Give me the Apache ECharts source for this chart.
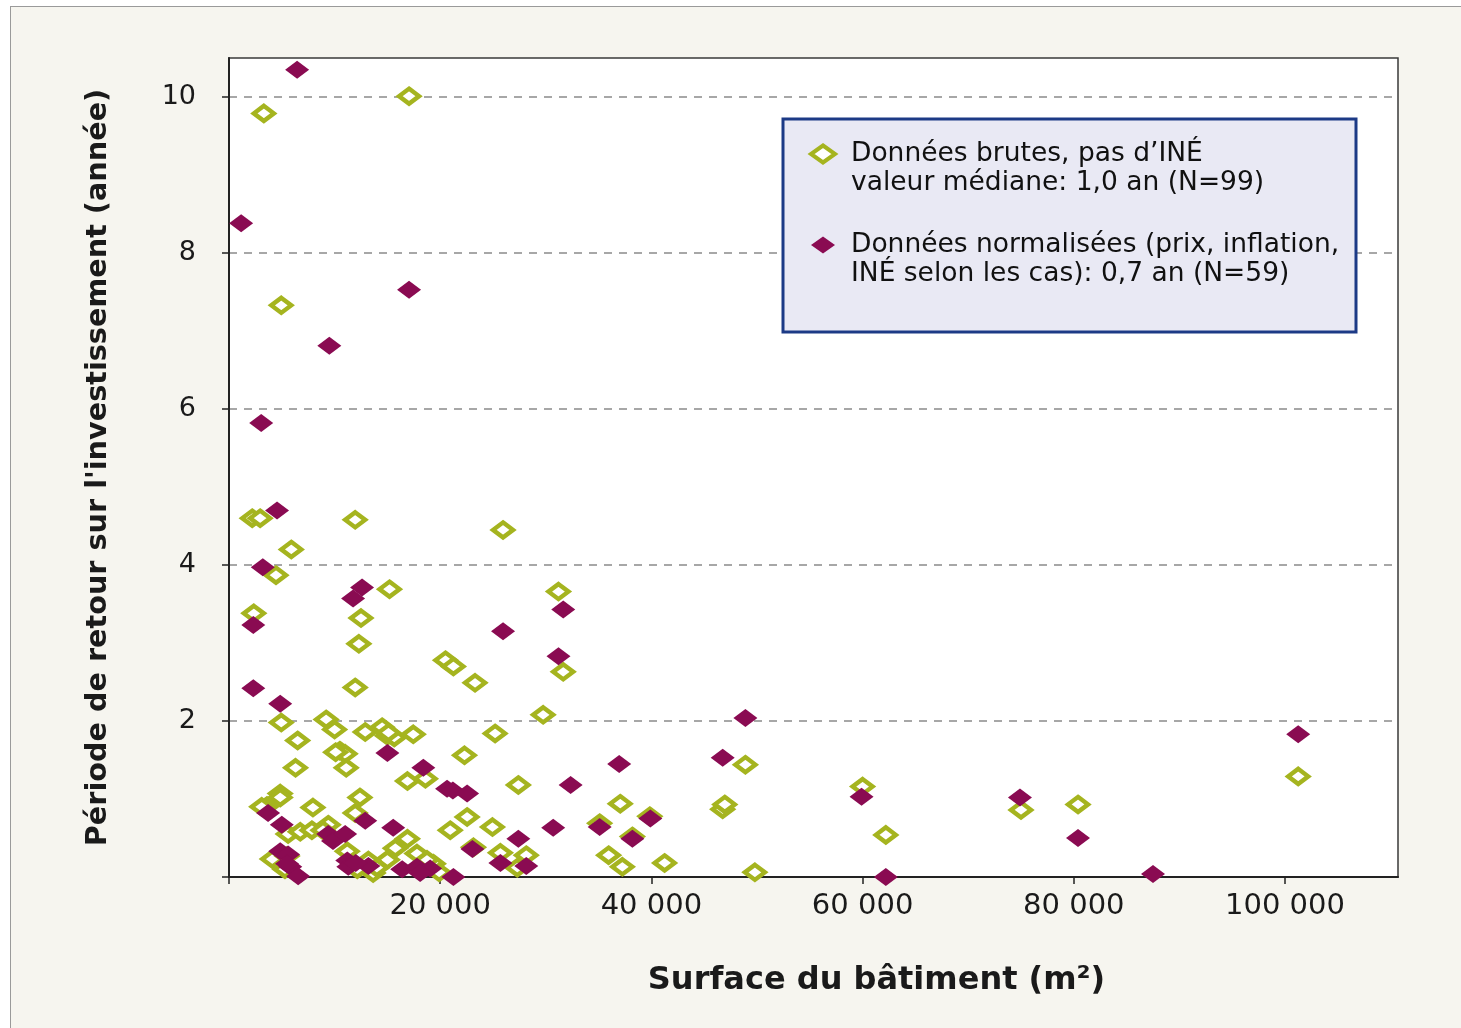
<!DOCTYPE html>
<html>
<head>
<meta charset="utf-8">
<script src="https://cdn.jsdelivr.net/npm/echarts@6/dist/echarts.min.js"></script>
<style>
html,body{margin:0;padding:0;background:#ffffff;}
#frame{position:absolute;left:10px;top:6px;width:1470px;height:1040px;background:#f6f5ef;border:1px solid #9a9a9a;box-sizing:border-box;}
#chart{position:absolute;left:0;top:0;width:1461px;height:1028px;}
</style>
</head>
<body>
<div id="frame"></div>
<div id="chart"></div>
<script>
// Raw data, no NPV (x = building surface m², y = payback years)
const rawX = [3300,17050,4950,2200,2950,5900,4450,2350,11950,25950,15200,12500,12300,11950,31200,31650,20500,21250,23300,29750,25200,22300,9200,4950,6500,10000,10500,11000,6300,11100,12900,14500,15000,15650,17450,16900,18600,4850,4850,3600,7950,12400,11950,22550,20950,5600,6750,7850,9400,16900,15750,17800,15000,4100,5300,11200,13200,13650,19350,18750,12150,23150,27400,37050,48900,46750,46950,24950,35100,25700,28150,27300,35950,37250,41250,49800,39850,38200,60000,62200,75000,80400,101250,15100,10100,3100,14000,5500,8900,19900];
const rawY = [9.79,10.01,7.33,4.60,4.60,4.20,3.87,3.38,4.58,4.45,3.69,3.32,2.99,2.43,3.66,2.63,2.78,2.70,2.49,2.08,1.84,1.56,2.02,1.98,1.75,1.89,1.62,1.58,1.40,1.40,1.86,1.92,1.81,1.79,1.83,1.23,1.26,1.07,1.02,0.91,0.89,1.02,0.82,0.77,0.60,0.55,0.58,0.60,0.67,0.49,0.37,0.30,0.22,0.23,0.10,0.33,0.21,0.05,0.17,0.22,0.10,0.38,1.18,0.94,1.44,0.87,0.93,0.64,0.69,0.31,0.28,0.12,0.28,0.13,0.18,0.06,0.78,0.52,1.16,0.54,0.86,0.93,1.29,1.85,1.60,0.90,0.12,0.27,0.60,0.06];
// Normalised data (price, inflation, NPV where applicable)
const normX = [6450,1150,17050,9500,3050,4550,3200,12600,11750,2300,2300,4850,15000,18400,20650,21200,22550,3700,5000,12900,15550,23050,9400,9850,11000,4850,5600,5800,6550,11200,11300,13200,16400,17800,19050,21250,18100,31650,25950,31200,48900,46750,36950,32350,30700,35100,39900,38200,27400,25700,28150,59900,62200,74900,80400,87500,101250,5500,12000];
const normY = [10.35,8.38,7.53,6.81,5.82,4.70,3.97,3.71,3.57,3.23,2.42,2.22,1.59,1.40,1.13,1.11,1.07,0.82,0.67,0.72,0.63,0.36,0.55,0.46,0.55,0.33,0.29,0.13,0.01,0.21,0.13,0.14,0.10,0.13,0.11,0.00,0.05,3.43,3.15,2.83,2.04,1.53,1.45,1.18,0.63,0.64,0.75,0.49,0.49,0.18,0.14,1.03,0.00,1.02,0.50,0.04,1.83,0.17,0.18];

const xTicks = [20000,40000,60000,80000,100000];
const yTicks = [2,4,6,8,10];
const seriesNames = [
  "Données brutes, pas d\u2019INÉ\nvaleur médiane: 1,0 an (N=99)",
  "Données normalisées (prix, inflation,\nINÉ selon les cas): 0,7 an (N=59)"
];
const xTitle = "Surface du bâtiment (m²)";
const yTitle = "Période de retour sur l'investissement (année)";

const GREEN = '#a5b41f';
const PURPLE = '#8a0b52';
const FONT = 'DejaVu Sans, sans-serif';

const zip = (xs, ys) => xs.map((x, i) => [x, ys[i]]);
const fmtThousands = v => String(v).replace(/\B(?=(\d{3})+(?!\d))/g, ' ');

const chart = echarts.init(document.getElementById('chart'), null, {renderer: 'canvas'});
chart.setOption({
  backgroundColor: 'transparent',
  animation: false,
  grid: {
    left: 229, top: 58, right: 63, bottom: 151,
    show: true, backgroundColor: '#ffffff', borderColor: '#3a3a3a', borderWidth: 1.5
  },
  graphic: [{
    type: 'rect', z: 3,
    shape: {x: 783, y: 119, width: 573, height: 213},
    style: {fill: '#e9e9f4', stroke: '#1c3a86', lineWidth: 3}
  }],
  legend: {
    left: 804, top: 105,
    orient: 'vertical',
    itemWidth: 24, itemHeight: 17,
    itemGap: 3,
    z: 5,
    formatter: name => '\n' + name.split('\n').map(l => '{t|' + l + '}').join('\n'),
    textStyle: {
      fontFamily: FONT, fontSize: 26, color: '#111', lineHeight: 29,
      rich: {t: {fontFamily: FONT, fontSize: 26.5, color: '#111', lineHeight: 29.5, padding: [0, 0, 0, 11]}}
    },
    data: [
      {name: seriesNames[0], itemStyle: {color: '#ffffff', borderColor: GREEN, borderWidth: 4}},
      {name: seriesNames[1], itemStyle: {color: PURPLE, borderWidth: 0}}
    ]
  },
  xAxis: {
    type: 'value', min: 0, max: 110700, interval: 20000,
    name: xTitle, nameLocation: 'middle', nameGap: 88,
    nameTextStyle: {fontFamily: FONT, fontSize: 32, fontWeight: 'bold', color: '#1a1a1a', padding: [0, 0, 0, 126]},
    axisLine: {show: true, lineStyle: {color: '#222', width: 2}},
    axisTick: {show: true, length: 7, lineStyle: {color: '#222', width: 1.5}, customValues: [0].concat(xTicks)},
    axisLabel: {
      customValues: xTicks,
      fontFamily: FONT, fontSize: 29, color: '#1a1a1a', margin: 15,
      formatter: v => (xTicks.indexOf(v) >= 0 ? fmtThousands(v) : '')
    },
    splitLine: {show: false}
  },
  yAxis: {
    type: 'value', min: 0, max: 10.5, interval: 2,
    name: yTitle, nameLocation: 'middle', nameGap: 116,
    nameTextStyle: {fontFamily: FONT, fontSize: 28.7, fontWeight: 'bold', color: '#1a1a1a'},
    axisLine: {show: true, lineStyle: {color: '#222', width: 2}},
    axisTick: {show: true, length: 7, lineStyle: {color: '#222', width: 1.5}, customValues: [0].concat(yTicks)},
    axisLabel: {
      customValues: yTicks,
      fontFamily: FONT, fontSize: 27, color: '#1a1a1a', margin: 33,
      formatter: v => (yTicks.indexOf(v) >= 0 ? String(v) : '')
    },
    splitLine: {show: true, lineStyle: {color: '#8a8a8a', width: 1.5, type: [8, 7]}}
  },
  series: [
    {
      name: seriesNames[0], type: 'scatter', z: 2,
      symbol: 'diamond', symbolSize: [20, 15],
      itemStyle: {color: '#ffffff', borderColor: GREEN, borderWidth: 4.5, opacity: 1},
      data: zip(rawX, rawY)
    },
    {
      name: seriesNames[1], type: 'scatter', z: 3,
      symbol: 'diamond', symbolSize: [24, 18],
      itemStyle: {color: PURPLE, opacity: 1},
      data: zip(normX, normY)
    }
  ]
});
</script>
</body>
</html>
